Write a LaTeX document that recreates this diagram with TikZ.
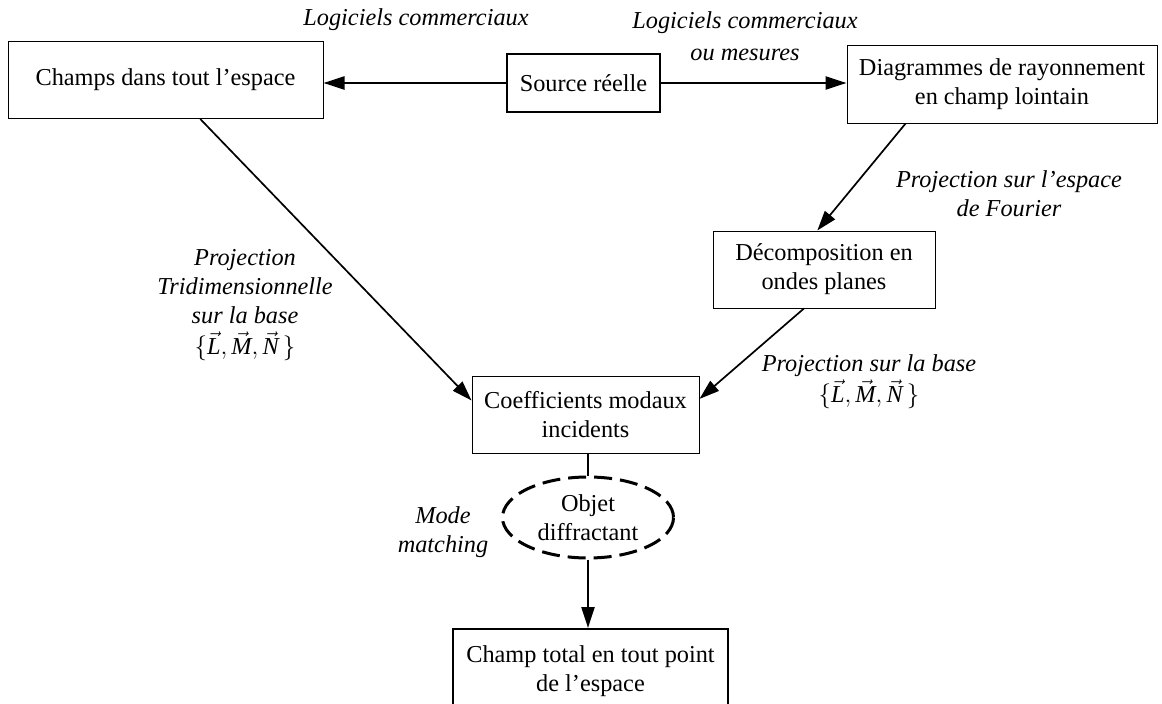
\documentclass[tikz,border=0pt]{standalone}
\usepackage{fontspec}
\setmainfont{Liberation Serif}
\usetikzlibrary{arrows.meta,shapes.geometric,calc}
\newcommand{\fs}{\fontsize{24.3}{29}\selectfont}
\newcommand{\LMN}{$\Big\{\vec{\textit{L}},\vec{\textit{M}},\vec{\textit{N}}\,\Big\}$}
\tikzset{
  x=1pt, y=-1pt,
  box/.style={draw, line width=1pt, inner sep=0pt, align=center, font=\fs},
  thickbox/.style={box, line width=2pt},
  lbl/.style={align=center, font=\fs\itshape, inner sep=0pt},
  arr/.style={line width=1.7pt, -{Triangle[length=20pt,width=13pt]}},
  harr/.style={line width=2.3pt, -{Triangle[length=21pt,width=13pt]}},
}
\begin{document}
\begin{tikzpicture}
\useasboundingbox (0,0) rectangle (1162,704);
\clip (0,0) rectangle (1162,704);
\node[box, minimum width=315pt, minimum height=77pt] (champs) at (165.5,80) {Champs dans tout l'espace};
\node[thickbox, minimum width=153pt, minimum height=58pt] (source) at (583.5,83) {Source réelle};
\node[box, minimum width=310pt, minimum height=78pt] (diag) at (1002,84) {Diagrammes de rayonnement\\en champ lointain};
\node[box, minimum width=222pt, minimum height=77pt] (decomp) at (824,269.5) {Décomposition en\\ondes planes};
\node[box, minimum width=227pt, minimum height=77pt] (coef) at (585.5,414.5) {Coefficients modaux\\incidents};
\node[ellipse, draw, dashed, dash pattern=on 18pt off 8pt, line width=3pt, minimum width=171pt, minimum height=81pt, inner sep=0pt, align=center, font=\fs] (objet) at (588,517.5) {Objet\\diffractant};
\node[thickbox, minimum width=275pt, minimum height=84pt] (total) at (590.5,671) {Champ total en tout point\\de l'espace};

\node[lbl] (l1) at (416,20) {Logiciels commerciaux};
\node[lbl] (l2) at (745,36) {Logiciels commerciaux\\[3pt]ou mesures};
\node[lbl] (l3) at (1009,194) {Projection sur l'espace\\de Fourier};
\node[lbl] (l4) at (245,305) {Projection\\Tridimensionnelle\\sur la base\\[2pt]\LMN};
\node[lbl] (l5) at (869,382) {Projection sur la base\\[2pt]\LMN};
\node[lbl] (l6) at (443,532) {Mode\\matching};

\coordinate (cb) at ($(champs.south west)!0.61!(champs.south east)$);
\coordinate (db) at ($(diag.south west)!0.19!(diag.south east)$);
\coordinate (dt) at ($(decomp.north west)!0.47!(decomp.north east)$);
\coordinate (pb) at ($(decomp.south west)!0.41!(decomp.south east)$);
\coordinate (cl) at ($(coef.north west)!0.32!(coef.south west)$);
\coordinate (cr) at ($(coef.north east)!0.30!(coef.south east)$);
\draw[harr] (source.west) -- (champs.east |- source.west);
\draw[harr] (source.east) -- (diag.west |- source.east);
\draw[arr] (cb) -- (cl);
\draw[arr] (db) -- (dt);
\draw[arr] (pb) -- (cr);
\draw[line width=1.7pt] (coef.south -| objet.north) -- (objet.north);
\draw[harr] (objet.south) -- (total.north -| objet.south);
\end{tikzpicture}
\end{document}
